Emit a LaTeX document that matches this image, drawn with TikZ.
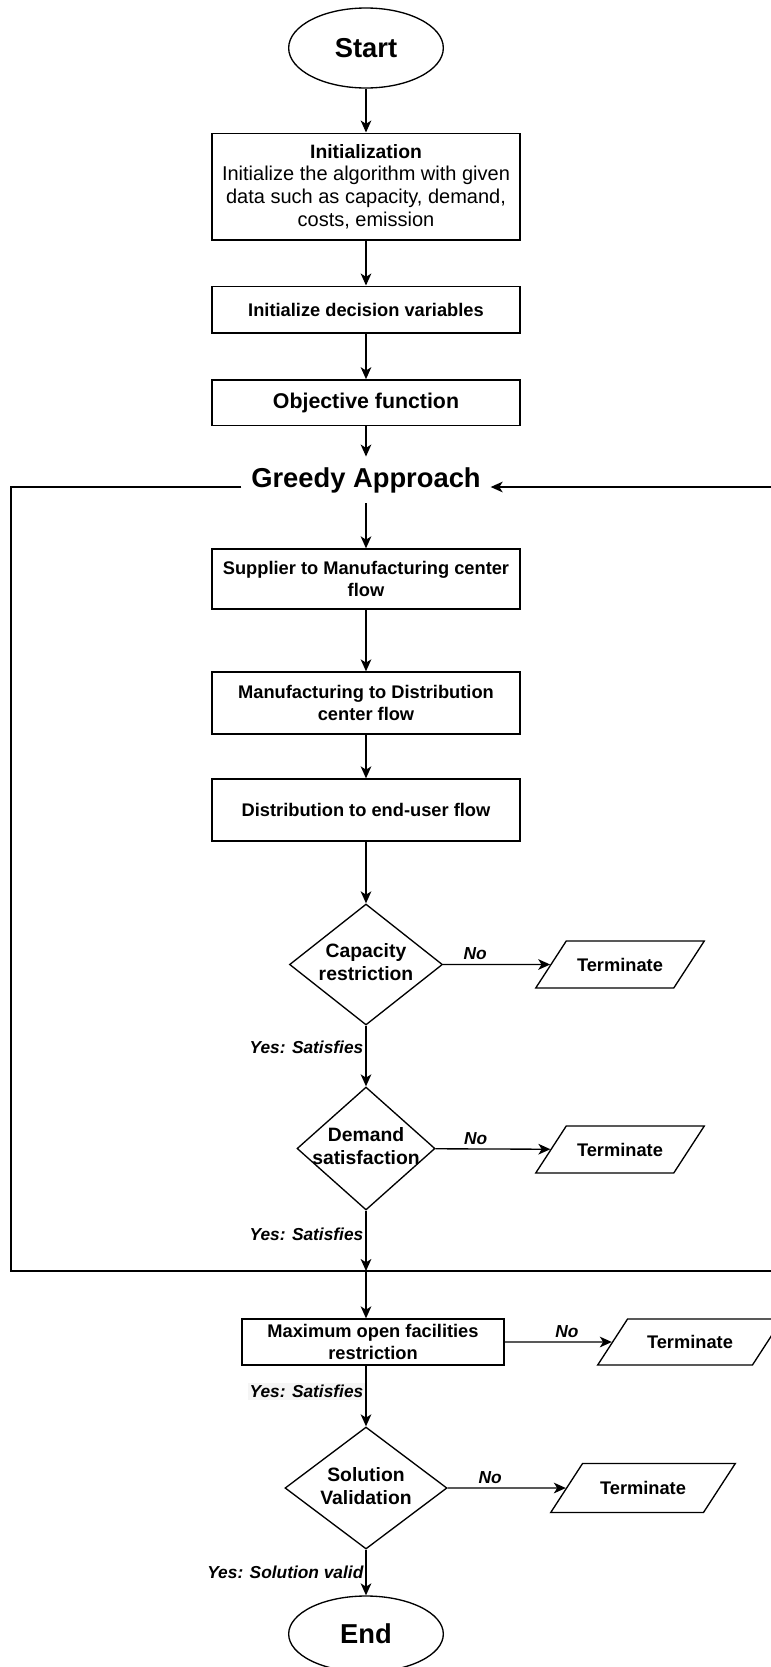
\documentclass[tikz,border=0pt]{standalone}
\usepackage{fontspec}
\setmainfont{Liberation Sans}
\usepackage{tikz}
\usetikzlibrary{arrows.meta,arrows}
\usetikzlibrary{shapes.geometric}

\newcommand{\twolines}[2]{\makebox[0pt]{\begin{tabular}{@{}c@{}}#1\\#2\end{tabular}}}

\begin{document}
\begin{tikzpicture}[x=0.75pt,y=-0.75pt,line width=1pt,
        >={Stealth[length=9pt,width=8pt,inset=2.5pt]}]
    \useasboundingbox (0,0) rectangle (771,1667);

        \begin{scope}[every node/.style={ellipse,draw,inner sep=0pt,
            minimum width=116pt,font=\bfseries\fontsize{20.5}{24}\selectfont}]
            \node[minimum height=60pt] (start) at (366,48) {Start};
            \node[minimum height=57pt] (end) at (366,1634) {End};
        \end{scope}

        \begin{scope}[every node/.style={rectangle,draw,align=center,inner sep=2pt,
            minimum width=231pt,font=\bfseries\fontsize{13.7}{16.5}\selectfont}]
            \node[minimum height=80pt,font=\fontsize{15}{17}\selectfont] (init) at (366,186.5)
                {{\bfseries\fontsize{14.5}{17}\selectfont Initialization}\\Initialize the algorithm with given\\data such as capacity, demand,\\costs, emission};
            \node[minimum height=35pt] (vars) at (366,309.5) {Initialize decision variables};
            \node[minimum height=34pt,font=\bfseries\fontsize{16}{19}\selectfont] (obj) at (366,402.5) {Objective function};
            \node[minimum height=45pt] (sup) at (366,579) {Supplier to Manufacturing center\\flow};
            \node[minimum height=46.5pt] (man) at (366,703) {Manufacturing to Distribution\\center flow};
            \node[minimum height=46.5pt] (dist) at (366,810) {Distribution to end-user flow};
            \node[minimum width=196.5pt,minimum height=34.5pt] (maxf) at (373,1342) {Maximum open facilities\\restriction};
        \end{scope}

        \node[font=\bfseries\fontsize{20.5}{24}\selectfont,inner xsep=7pt,inner ysep=7.5pt,
            anchor=base] (greedy) at (366,487) {Greedy Approach};

        \begin{scope}[every node/.style={diamond,draw,inner sep=0pt,
            font=\bfseries\fontsize{14.5}{17.5}\selectfont}]
            \node[minimum width=114.75pt,minimum height=90.75pt] (cap) at (366,964.5) {\twolines{Capacity}{restriction}};
            \node[minimum width=103.5pt,minimum height=92.25pt] (dem) at (366,1148.5) {\twolines{Demand}{satisfaction}};
            \node[minimum width=121.5pt,minimum height=91.5pt] (sol) at (366,1488) {\twolines{Solution}{Validation}};
        \end{scope}

        \begin{scope}[every node/.style={trapezium,draw,trapezium left angle=57,
            trapezium right angle=123,text height=10pt,text depth=0pt,
            inner xsep=8.1pt,inner ysep=12.6pt,
            font=\bfseries\fontsize{13.7}{16.5}\selectfont}]
            \node (term1) at (620,964.5) {Terminate};
            \node (term2) at (620,1149.5) {Terminate};
            \node[inner xsep=14.6pt,inner ysep=12.25pt] (term3) at (690,1342) {Terminate};
            \node[inner xsep=13.1pt,inner ysep=13.4pt] (term4) at (643,1488) {Terminate};
        \end{scope}

        \coordinate (join) at (366,1271);
        \coordinate (loopL) at (11,1271);
        \coordinate (loopR) at (778,1271);

        \draw[->] (start) -- (init);
        \draw[->] (init) -- (vars);
        \draw[->] (vars) -- (obj);
        \draw[->] (obj) -- (greedy);
        \draw[->] (greedy) -- (sup);
        \draw[->] (sup) -- (man);
        \draw[->] (man) -- (dist);
        \draw[->] (dist) -- (cap);
        \draw[->] (join) -- (join |- maxf.north);

        % greedy loop
        \draw (greedy.base west) -| (loopL) -- (join);
        \draw[->] (join) -- (loopR) |- (greedy.base east);

        \begin{scope}[every node/.style={inner sep=1.5pt,
            font=\bfseries\itshape\fontsize{13}{15}\selectfont}]
            \path [->] (cap) edge node[pos=0.35,left] {Yes: Satisfies} (dem);
            \path [->] (dem) edge node[pos=0.39,left] {Yes: Satisfies} (join);
            \path [->] (sol |- maxf.south) edge node[pos=0.42,left,fill=gray!8] {Yes: Satisfies} (sol);
            \path [->] (sol) edge node[pos=0.49,left] {Yes: Solution valid} (end);
            \path [->] (cap) edge node[pos=0.3,above,inner sep=3pt] {No} (term1);
            \path [->] (dem) edge node[pos=0.35,above,inner sep=3pt] {No} (term2);
            \path [->] (maxf) edge node[pos=0.58,above,inner sep=3pt] {No} (term3);
            \path [->] (sol) edge node[pos=0.36,above,inner sep=3pt] {No} (term4);
        \end{scope}
    \end{tikzpicture}
\end{document}
